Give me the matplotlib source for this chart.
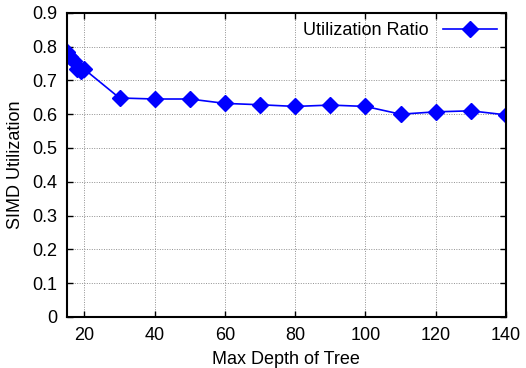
import matplotlib
matplotlib.use('Agg')
import matplotlib.pyplot as plt

depth = [15, 16, 17, 18, 19, 20, 30, 40, 50, 60, 70, 80, 90, 100, 110, 120, 130, 140]
utilization = [0.785, 0.770, 0.757, 0.735, 0.728, 0.733, 0.648, 0.645, 0.645,
               0.632, 0.628, 0.623, 0.627, 0.623, 0.600, 0.607, 0.610, 0.598]
x_ticks = [20, 40, 60, 80, 100, 120, 140]
y_ticks = [0, 0.1, 0.2, 0.3, 0.4, 0.5, 0.6, 0.7, 0.8, 0.9]

plt.rcParams['font.family'] = ['Liberation Sans', 'DejaVu Sans']
plt.rcParams['font.size'] = 13

fig = plt.figure(figsize=(5.26, 3.68), dpi=100)
ax = fig.add_axes([0.127, 0.139, 0.835, 0.826])

ax.plot(depth, utilization, color='#0000ff', marker='D', markersize=8.5,
        linewidth=1.2, label='Utilization Ratio')

ax.set_xlim(15, 140)
ax.set_ylim(0, 0.9)
ax.set_xticks(x_ticks)
ax.set_yticks(y_ticks)
ax.set_yticklabels(['0', '0.1', '0.2', '0.3', '0.4', '0.5', '0.6', '0.7', '0.8', '0.9'])
ax.grid(True, color='#909090', linestyle=(0, (1, 1.5)), linewidth=0.7)
ax.tick_params(direction='in', top=True, right=True, length=4, width=1, pad=7)
for s in ax.spines.values():
    s.set_linewidth(1.5)

ax.set_xlabel('Max Depth of Tree', labelpad=5)
ax.set_ylabel('SIMD Utilization', labelpad=6)
ax.legend(loc='upper right', frameon=False, markerfirst=False,
          handlelength=3, borderaxespad=0.1)

fig.savefig('out.png', dpi=100)
